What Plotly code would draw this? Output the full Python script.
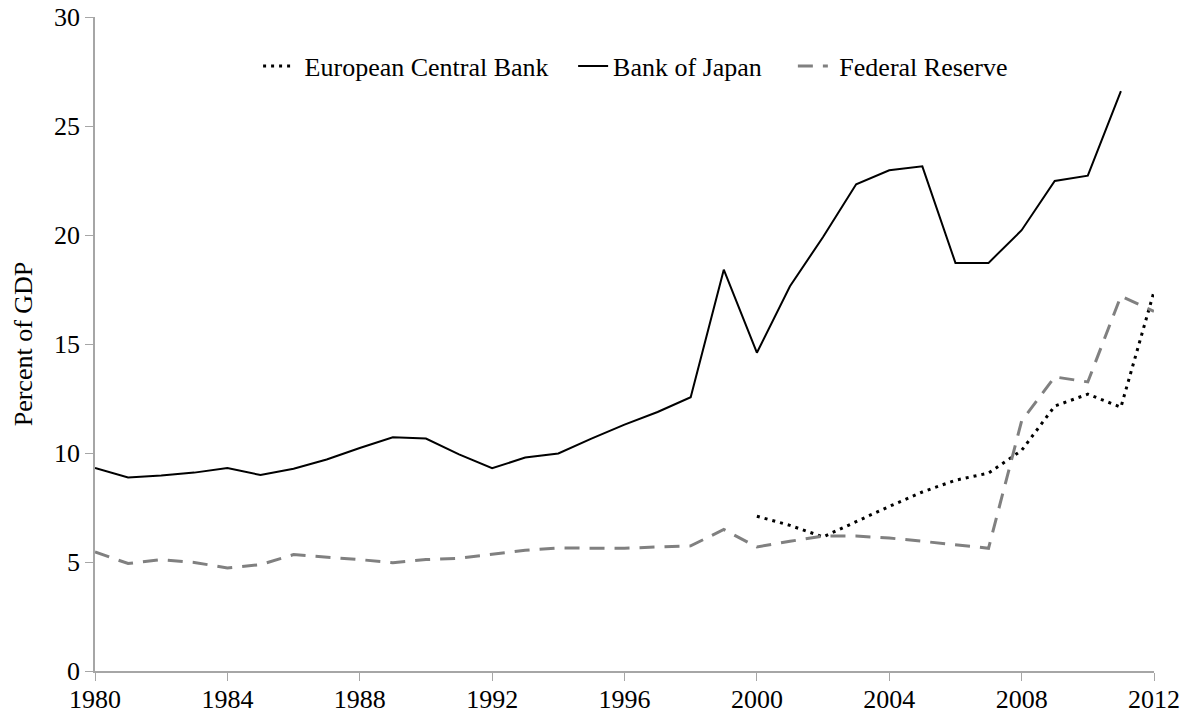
import plotly.graph_objects as go

# Years on the x axis
years = list(range(1980, 2013))
ecb_years = list(range(2000, 2013))
boj_years = list(range(1980, 2012))

# Central bank balance sheets, percent of GDP
ecb = [7.10, 6.68, 6.15, 6.85, 7.55, 8.21, 8.75, 9.08, 10.12, 12.15, 12.70, 12.10, 17.40]
boj = [9.31, 8.88, 8.97, 9.10, 9.31, 8.99, 9.28, 9.70, 10.23, 10.72,
       10.66, 9.94, 9.30, 9.79, 9.98, 10.66, 11.30, 11.88, 12.56, 18.41,
       14.60, 17.65, 19.91, 22.33, 22.97, 23.15, 18.72, 18.72, 20.22, 22.48,
       22.72, 26.60]
fed = [5.46, 4.93, 5.11, 4.98, 4.73, 4.88, 5.34, 5.23, 5.11, 4.97,
       5.11, 5.17, 5.35, 5.54, 5.64, 5.64, 5.63, 5.69, 5.74, 6.49,
       5.69, 5.95, 6.19, 6.19, 6.10, 5.95, 5.80, 5.63, 11.47, 13.49,
       13.26, 17.20, 16.50]

x_ticks = [1980, 1984, 1988, 1992, 1996, 2000, 2004, 2008, 2012]
y_ticks = [0, 5, 10, 15, 20, 25, 30]

font_family = "Liberation Serif, Times New Roman, serif"
nb = "\u00a0"  # non-breaking spaces widen the legend entries

fig = go.Figure()

fig.add_trace(go.Scatter(
    x=ecb_years, y=ecb, name=nb + "European Central Bank" + nb * 3, mode="lines",
    line=dict(color="black", width=3, dash="3px,5px"),
))
fig.add_trace(go.Scatter(
    x=boj_years, y=boj, name="Bank of Japan" + nb * 4, mode="lines",
    line=dict(color="black", width=2),
))
fig.add_trace(go.Scatter(
    x=years, y=fed, name=nb + "Federal Reserve", mode="lines",
    line=dict(color="#808080", width=3, dash="15px,10px"),
))

fig.update_layout(
    width=1182, height=715,
    margin=dict(l=95, r=28, t=17, b=44),
    plot_bgcolor="white", paper_bgcolor="white",
    font=dict(family=font_family, size=26, color="black"),
    showlegend=True,
    legend=dict(
        orientation="h", x=0.154, xanchor="left", y=0.925, yanchor="middle",
        font=dict(size=26), bgcolor="rgba(0,0,0,0)",
        tracegroupgap=0,
    ),
    xaxis=dict(
        range=[1980, 2012], tickvals=x_ticks, ticktext=[str(t) for t in x_ticks],
        showline=True, linecolor="#A6A6A6", linewidth=1.5,
        ticks="outside", ticklen=8, tickcolor="#A6A6A6",
        tickfont=dict(size=26), automargin=False, ticklabeloverflow="allow",
        ticklabelstandoff=-4,
        showgrid=False, zeroline=False,
    ),
    yaxis=dict(
        range=[0, 30], tickvals=y_ticks, ticksuffix=nb * 2,
        showline=True, linecolor="#A6A6A6", linewidth=1.5,
        ticks="outside", ticklen=8, tickcolor="#A6A6A6",
        tickfont=dict(size=26), automargin=False, ticklabeloverflow="allow",
        showgrid=False, zeroline=False,
        title=dict(text="Percent of GDP", standoff=14, font=dict(size=26)),
    ),
)

# drop the default body margin so the figure fills the window exactly
fig.write_html(
    "out.html",
    config={"displayModeBar": False},
    post_script="document.body.style.margin='0';",
)
